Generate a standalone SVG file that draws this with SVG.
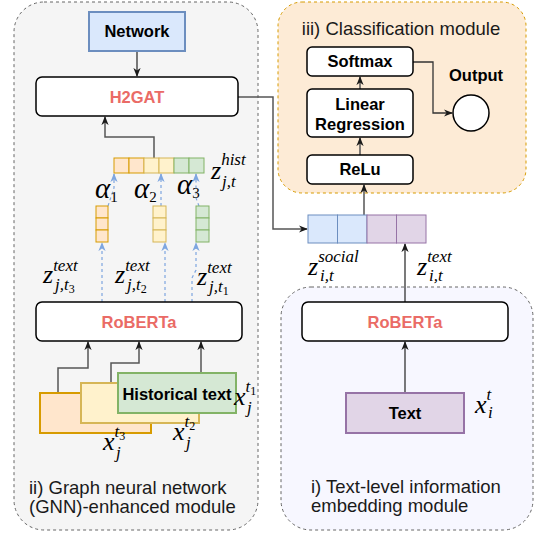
<svg xmlns="http://www.w3.org/2000/svg" width="535" height="535" viewBox="0 0 535 535">
<defs>
<style>
.lbl{font-family:"Liberation Sans",Arial,sans-serif;font-weight:bold;font-size:16.5px;fill:#000;text-anchor:middle}
.red{fill:#EA6B66}
.mod{font-family:"Liberation Sans",Arial,sans-serif;font-size:18.5px;fill:#1a1a1a}
.math{font-family:"Liberation Serif","Times New Roman",serif;font-style:italic;font-size:26px;fill:#000}
.sc{font-size:17px}
.ss{font-size:12px;font-style:normal}
.box{fill:#fff;stroke:#000;stroke-width:1.5}
.conn{fill:none;stroke:#333;stroke-width:1.3}
.gconn{fill:none;stroke:#555;stroke-width:1.5}
.dash{fill:none;stroke:#7EA6E0;stroke-width:1.2;stroke-dasharray:3 3}
.or{fill:#ffe6cc;stroke:#d79b00}
.ye{fill:#fff2cc;stroke:#d6b656}
.gr{fill:#d5e8d4;stroke:#82b366}
.bl{fill:#dae8fc;stroke:#6c8ebf}
.pu{fill:#e1d5e7;stroke:#9673a6}
</style>
<marker id="arr" viewBox="0 0 10 10" refX="9" refY="5" markerWidth="9" markerHeight="9" markerUnits="userSpaceOnUse" orient="auto"><path d="M0,1 L10,5 L0,9 L3,5 z" fill="#1a1a1a"/></marker>
<marker id="barr" viewBox="0 0 10 10" refX="9" refY="5" markerWidth="9" markerHeight="9" markerUnits="userSpaceOnUse" orient="auto"><path d="M0,1 L10,5 L0,9 L3,5 z" fill="#7EA6E0"/></marker>
</defs>

<!-- containers -->
<g id="gnn-module">
<rect x="14" y="2" width="244" height="528" rx="30" fill="#f5f5f5" stroke="#666" stroke-dasharray="3 3"/>
<text class="mod" x="29" y="494">ii) Graph neural network</text>
<text class="mod" x="29" y="513">(GNN)-enhanced module</text>
</g>
<g id="text-module">
<rect x="281" y="287" width="252" height="243" rx="30" fill="#f7f7ff" stroke="#666" stroke-dasharray="3 3"/>
<text class="mod" x="311" y="493">i) Text-level information</text>
<text class="mod" x="311" y="512">embedding module</text>
</g>
<g id="class-module">
<rect x="278" y="2" width="248" height="191" rx="24" fill="#fdebd6" stroke="#d79b00" stroke-dasharray="3 3"/>
<text class="mod" x="401" y="35" text-anchor="middle">iii) Classification module</text>
</g>

<!-- connectors -->
<g id="connectors">
<path class="conn" d="M137,51 V76" marker-end="url(#arr)"/>
<path class="gconn" d="M154,158 V137 H105 V117" marker-end="url(#arr)"/>
<path class="gconn" d="M238,97 H273 V229 H307" marker-end="url(#arr)"/>
<path class="dash" d="M108,206 L114,188 V174" marker-end="url(#barr)"/>
<path class="dash" d="M161,206 V174" marker-end="url(#barr)"/>
<path class="dash" d="M199,206 L196,198 V174" marker-end="url(#barr)"/>
<path class="dash" d="M102,302 V243" marker-end="url(#barr)"/>
<path class="dash" d="M165,302 V243" marker-end="url(#barr)"/>
<path class="dash" d="M192,302 V278 L196,270 V243" marker-end="url(#barr)"/>
<path class="gconn" d="M58,393 V368 H88 V342" marker-end="url(#arr)"/>
<path class="gconn" d="M111,383 V363 H139 V342" marker-end="url(#arr)"/>
<path class="gconn" d="M201,373 V342" marker-end="url(#arr)"/>
<path class="conn" d="M405,393 V342" marker-end="url(#arr)"/>
<path class="conn" d="M405,302 V244" marker-end="url(#arr)"/>
<path class="gconn" d="M364,215 V185" marker-end="url(#arr)"/>
<path class="gconn" d="M360,155 V138" marker-end="url(#arr)"/>
<path class="gconn" d="M360,89 V77" marker-end="url(#arr)"/>
<path class="conn" d="M413,62 H433 V113 H452" marker-end="url(#arr)"/>
</g>

<!-- nodes -->
<g id="network">
<rect x="89" y="12" width="96" height="39" class="bl" stroke-width="2"/>
<text class="lbl" x="137" y="37">Network</text>
</g>
<g id="h2gat">
<rect x="36" y="77" width="202" height="39" rx="6" class="box"/>
<text class="lbl red" x="137" y="103">H2GAT</text>
</g>
<g id="hist-vector">
<rect x="114" y="158" width="15" height="15" class="or"/>
<rect x="129" y="158" width="15" height="15" class="or"/>
<rect x="144" y="158" width="15" height="15" class="ye"/>
<rect x="159" y="158" width="15" height="15" class="ye"/>
<rect x="174" y="158" width="15" height="15" class="gr"/>
<rect x="189" y="158" width="15" height="15" class="gr"/>
<text class="math" x="211" y="179">z<tspan class="sc" dy="-14">hist</tspan><tspan class="sc" x="222" dy="22">j,t</tspan></text>
</g>
<g id="alphas">
<text class="math" x="95" y="198" style="font-size:29px">α<tspan class="ss" style="font-size:15px" dy="4">1</tspan></text>
<text class="math" x="134" y="198" style="font-size:29px">α<tspan class="ss" style="font-size:15px" dy="4">2</tspan></text>
<text class="math" x="177" y="194" style="font-size:29px">α<tspan class="ss" style="font-size:15px" dy="4">3</tspan></text>
</g>
<g id="vec-t3">
<rect x="96" y="206" width="12" height="12" class="or"/>
<rect x="96" y="218" width="12" height="12" class="or"/>
<rect x="96" y="230" width="12" height="12" class="or"/>
</g>
<g id="vec-t2">
<rect x="153" y="206" width="13" height="12" class="ye"/>
<rect x="153" y="218" width="13" height="12" class="ye"/>
<rect x="153" y="230" width="13" height="12" class="ye"/>
</g>
<g id="vec-t1">
<rect x="196" y="206" width="13" height="12" class="gr"/>
<rect x="196" y="218" width="13" height="12" class="gr"/>
<rect x="196" y="230" width="13" height="12" class="gr"/>
</g>
<g id="z-text-labels">
<text class="math" x="43" y="283">z<tspan class="sc" dy="-12">text</tspan><tspan class="sc" x="55" dy="19">j,t</tspan><tspan class="ss" dy="3">3</tspan></text>
<text class="math" x="115" y="283">z<tspan class="sc" dy="-12">text</tspan><tspan class="sc" x="127" dy="19">j,t</tspan><tspan class="ss" dy="3">2</tspan></text>
<text class="math" x="197" y="285">z<tspan class="sc" dy="-12">text</tspan><tspan class="sc" x="209" dy="19">j,t</tspan><tspan class="ss" dy="3">1</tspan></text>
</g>
<g id="roberta-left">
<rect x="36" y="302" width="206" height="39" rx="6" class="box"/>
<text class="lbl red" x="139" y="328">RoBERTa</text>
</g>
<g id="hist-text-t3">
<rect x="40" y="393" width="111" height="40" class="or" stroke-width="2"/>
<text class="math" x="103" y="450">x<tspan class="sc" dy="-13">t</tspan><tspan class="ss" dy="3">3</tspan><tspan class="sc" x="116" dy="18">j</tspan></text>
</g>
<g id="hist-text-t2">
<rect x="81" y="383" width="118" height="40" class="ye" stroke-width="2"/>
<text class="math" x="173" y="440">x<tspan class="sc" dy="-13">t</tspan><tspan class="ss" dy="3">2</tspan><tspan class="sc" x="186" dy="18">j</tspan></text>
</g>
<g id="hist-text-t1">
<rect x="118" y="373" width="118" height="40" class="gr" stroke-width="2"/>
<text class="lbl" x="177" y="400">Historical text</text>
<text class="math" x="234" y="405">x<tspan class="sc" dy="-13">t</tspan><tspan class="ss" dy="3">1</tspan><tspan class="sc" x="247" dy="18">j</tspan></text>
</g>
<g id="roberta-right">
<rect x="302" y="302" width="206" height="39" rx="6" class="box"/>
<text class="lbl red" x="405" y="328">RoBERTa</text>
</g>
<g id="text-input">
<rect x="346" y="393" width="118" height="40" class="pu" stroke-width="2"/>
<text class="lbl" x="405" y="419">Text</text>
<text class="math" x="475" y="413">x<tspan class="sc" dy="-13">t</tspan><tspan class="sc" x="488" dy="18">i</tspan></text>
</g>
<g id="concat-vector">
<rect x="308" y="215" width="29.5" height="28" class="bl"/>
<rect x="337.5" y="215" width="29.5" height="28" class="bl"/>
<rect x="367" y="215" width="29.5" height="28" class="pu"/>
<rect x="396.5" y="215" width="29.5" height="28" class="pu"/>
<text class="math" x="308" y="275">z<tspan class="sc" dy="-13">social</tspan><tspan class="sc" x="320" dy="19">i,t</tspan></text>
<text class="math" x="417" y="275">z<tspan class="sc" dy="-13">text</tspan><tspan class="sc" x="429" dy="19">i,t</tspan></text>
</g>
<g id="relu">
<rect x="307" y="155" width="106" height="29" rx="5" class="box"/>
<text class="lbl" x="360" y="175">ReLu</text>
</g>
<g id="linear-regression">
<rect x="307" y="89" width="106" height="48" rx="5" class="box"/>
<text class="lbl" x="360" y="110">Linear</text>
<text class="lbl" x="360" y="130">Regression</text>
</g>
<g id="softmax">
<rect x="307" y="47" width="106" height="29" rx="5" class="box"/>
<text class="lbl" x="360" y="67">Softmax</text>
</g>
<g id="output">
<circle cx="471" cy="113" r="18" fill="#fff" stroke="#000" stroke-width="1.5"/>
<text class="lbl" x="476" y="81">Output</text>
</g>
</svg>
